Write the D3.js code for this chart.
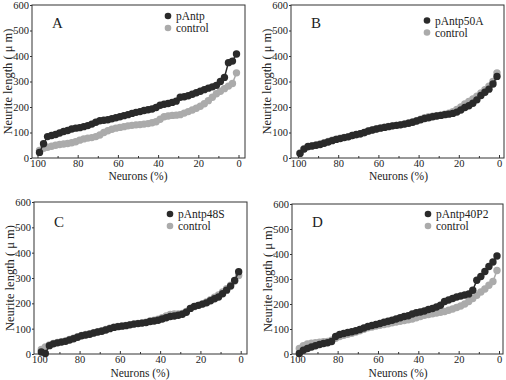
<!DOCTYPE html>
<html>
<head>
<meta charset="utf-8">
<script src="https://cdn.jsdelivr.net/npm/d3@7"></script>
<style>
  body { margin: 0; background: #fff; }
  svg { display: block; font-family: "Liberation Serif", "Times New Roman", serif; }
</style>
</head>
<body>
<div id="chart"></div>
<script>
'use strict'

// ---- data ----
const neurons = [99,97,95,93,91,89,87,85,83,81,79,77,75,73,71,69,67,65,63,61,59,57,55,53,51,49,47,45,43,41,39,37,35,33,31,29,27,25,23,21,19,17,15,13,11,9,7,5,3,1]

const pAntp = [22,56,84,88,92,98,104,108,114,117,119,123,127,133,140,146,148,150,154,158,162,166,170,175,179,182,186,189,192,198,207,211,214,218,223,238,240,244,250,256,262,268,274,279,285,300,316,374,380,408]
const controlA = [30,38,42,46,50,53,55,57,60,64,70,75,78,80,84,90,100,107,113,117,120,123,126,128,130,131,133,135,138,142,152,162,165,167,168,170,176,182,188,195,203,213,225,238,252,262,272,282,292,334]

const pAntp50A = [18,35,45,47,50,53,58,63,68,73,76,80,83,88,92,95,100,106,110,114,117,120,123,126,128,130,133,136,140,145,150,155,158,162,165,167,170,172,175,180,188,198,205,215,228,245,258,270,290,320]
const controlB = [20,36,44,48,51,55,60,65,70,74,78,81,84,88,91,94,99,105,110,114,118,121,124,126,128,131,134,137,141,146,152,158,162,164,166,168,172,176,182,190,200,212,222,232,242,255,268,282,300,334]

const pAntp48S = [8,2,33,40,44,47,50,55,60,66,72,75,78,83,87,90,95,100,105,108,110,112,115,118,120,122,124,128,130,133,138,143,148,150,153,157,165,180,188,192,197,202,210,218,225,238,252,268,290,325]
const controlC = [18,28,36,42,46,49,52,57,62,68,73,77,80,84,88,92,97,102,106,109,111,113,116,119,121,123,126,130,133,137,143,150,156,158,158,160,168,180,187,192,198,205,214,224,233,245,258,272,288,310]

const pAntp40P2 = [2,15,22,28,33,38,42,45,50,70,78,82,86,89,93,98,104,110,114,118,122,127,131,135,140,145,150,153,160,165,168,172,178,182,188,195,210,216,222,228,232,236,240,255,295,310,330,350,368,392]
const controlD = [22,33,40,43,45,47,49,50,55,63,70,75,79,83,88,93,99,105,108,112,115,118,121,125,128,131,134,137,140,145,150,155,158,161,164,167,170,175,180,186,192,200,210,222,235,248,260,275,290,334]

const yTicks = [0,100,200,300,400,500,600]
const xTicks = [100,80,60,40,20,0]
const xMinor = [90,70,50,30,10]

const panelLetters = ['A','B','C','D']
const treatNames = ['pAntp','pAntp50A','pAntp48S','pAntp40P2']
const treatValues = [pAntp, pAntp50A, pAntp48S, pAntp40P2]
const controlValues = [controlA, controlB, controlC, controlD]

// ---- layout ----
const W = 506, H = 380
const boxes = [
    { left: 32, top: 5, right: 245, bottom: 158, x100: 37.5, x0: 238.5, leg: 16, letterY: 28, titleY: 22 },
    { left: 291, top: 5, right: 504, bottom: 158, x100: 298, x0: 499, leg: 20.5, letterY: 28, titleY: 22 },
    { left: 34, top: 202, right: 247, bottom: 354, x100: 39.3, x0: 240.7, leg: 214, letterY: 227, titleY: 23 },
    { left: 292, top: 204, right: 503, bottom: 354, x100: 297.3, x0: 499, leg: 214, letterY: 227, titleY: 23 }
]

const dark = '#2a2a2a'
const light = '#ababab'

const svg = d3.select('#chart').append('svg')
    .attr('width', W)
    .attr('height', H)

boxes.forEach((b, i) => {
    const g = svg.append('g')

    const x = d3.scaleLinear().domain([100, 0]).range([b.x100, b.x0])
    const y = d3.scaleLinear().domain([0, 600]).range([b.bottom, b.top])

    // frame
    g.append('rect')
        .attr('x', b.left).attr('y', b.top)
        .attr('width', b.right - b.left).attr('height', b.bottom - b.top)
        .attr('fill', 'none').attr('stroke', '#333').attr('stroke-width', 1)

    // axes
    const yAxis = d3.axisLeft(y).tickValues(yTicks).tickSize(2).tickPadding(1)
    g.append('g').attr('transform', `translate(${b.left},0)`).call(yAxis)

    const xAxis = d3.axisBottom(x).tickValues(xTicks).tickSize(-3).tickPadding(2)
    g.append('g').attr('transform', `translate(0,${b.bottom})`).call(xAxis)

    g.append('g').attr('transform', `translate(0,${b.bottom})`)
        .call(d3.axisBottom(x).tickValues(xMinor).tickSize(-2).tickFormat(''))

    g.selectAll('.domain').remove()
    g.selectAll('.tick line').attr('stroke', '#333')
    g.selectAll('.tick text')
        .attr('font-family', '"Liberation Serif", serif')
        .attr('font-size', 10.5)
        .attr('fill', '#222')

    // axis titles
    g.append('text')
        .attr('transform', `translate(${b.left - 20},${(b.top + b.bottom) / 2}) rotate(-90)`)
        .attr('text-anchor', 'middle')
        .attr('font-size', 12.5)
        .attr('fill', '#222')
        .text('Neurite length ( μ m)')

    g.append('text')
        .attr('x', (b.x100 + b.x0) / 2)
        .attr('y', b.bottom + b.titleY)
        .attr('text-anchor', 'middle')
        .attr('font-size', 11.5)
        .attr('fill', '#222')
        .text('Neurons (%)')

    // panel letter
    g.append('text')
        .attr('x', b.left + 20)
        .attr('y', b.letterY)
        .attr('font-size', 15)
        .attr('fill', '#222')
        .text(panelLetters[i])

    // series: control underneath, treatment on top
    const series = [
        { vals: controlValues[i], color: light },
        { vals: treatValues[i], color: dark }
    ]

    const line = d3.line().x(d => x(d[0])).y(d => y(d[1]))

    series.forEach(s => {
        const pts = neurons.map((n, k) => [n, s.vals[k]])
        g.append('path')
            .datum(pts)
            .attr('d', line)
            .attr('fill', 'none')
            .attr('stroke', s.color)
            .attr('stroke-width', 1.5)
        g.selectAll(null)
            .data(pts)
            .enter().append('circle')
            .attr('cx', d => x(d[0]))
            .attr('cy', d => y(d[1]))
            .attr('r', 3.7)
            .attr('fill', s.color)
    })

    // legend
    const lx = b.left + 136
    const legItems = [
        { name: treatNames[i], color: dark, dy: 0 },
        { name: 'control', color: light, dy: 12 }
    ]
    legItems.forEach(it => {
        g.append('circle')
            .attr('cx', lx).attr('cy', b.leg + it.dy)
            .attr('r', 3.3)
            .attr('fill', it.color)
        g.append('text')
            .attr('x', lx + 8).attr('y', b.leg + it.dy + 4)
            .attr('font-size', 11.5)
            .attr('fill', '#222')
            .text(it.name)
    })
})
</script>
</body>
</html>
